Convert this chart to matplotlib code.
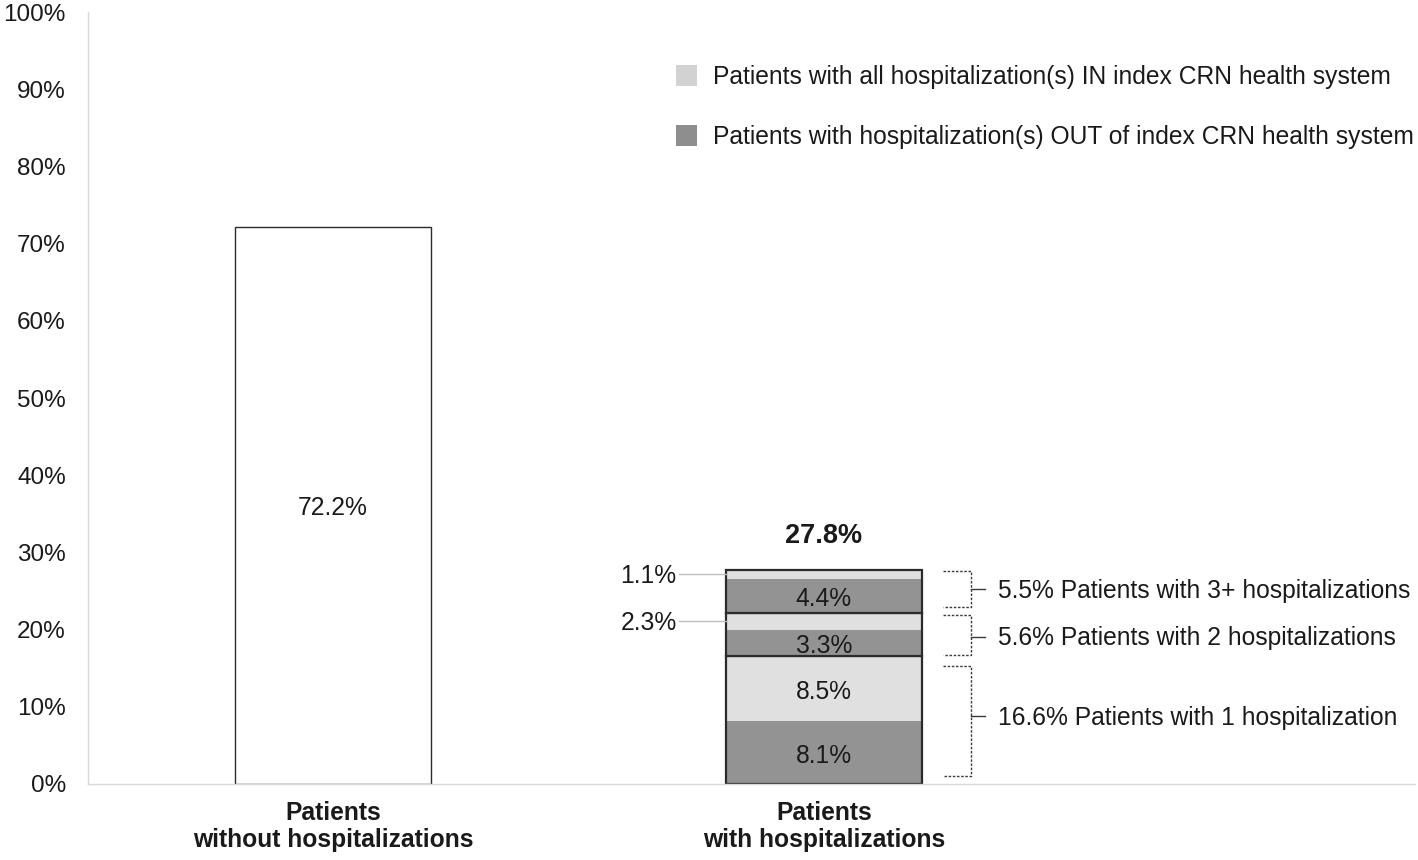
import matplotlib
matplotlib.use("Agg")
import matplotlib.pyplot as plt
from matplotlib.patches import Patch
from matplotlib.ticker import FuncFormatter

plt.rcParams['font.family'] = ['Liberation Sans', 'DejaVu Sans']

# ---- data ----
categories = ["Patients\nwithout hospitalizations", "Patients\nwith hospitalizations"]
no_hosp_value = 72.2
total_hosp_label = "27.8%"
groups = ["1 hospitalization", "2 hospitalizations", "3+ hospitalizations"]
out_values = [8.1, 3.3, 4.4]   # OUT of index CRN health system (dark)
in_values = [8.5, 2.3, 1.1]    # all IN index CRN health system (light)
group_labels = ["16.6% Patients with 1 hospitalization",
                "5.6% Patients with 2 hospitalizations",
                "5.5% Patients with 3+ hospitalizations"]
legend_labels = ["Patients with all hospitalization(s) IN index CRN health system",
                 "Patients with hospitalization(s) OUT of index CRN health system"]
yticks = list(range(0, 101, 10))

# bracket styling (positions relative to groups): (bottom inset, top inset, tick shift)
bracket_insets = [(1.0, 1.3, 0.65), (0.1, 0.3, -0.25), (0.7, 0.1, 0.0)]

DARK = "#939393"
LIGHT = "#e0e0e0"
LEG_LIGHT = "#d2d2d2"
LEG_DARK = "#8e8e8e"
EDGE = "#2b2b2b"
TXT = "#1a1a1a"
FS = 17.7
DY = -0.4  # small vertical text nudge

fig = plt.figure(figsize=(14.18, 8.6), dpi=100)
ax = fig.add_axes([88/1418, 76/860, (1415-88)/1418, (784-12)/860])

width = 0.4
x0, x1 = 0, 1

# bar 1
ax.bar(x0, no_hosp_value, width=width, color="white", edgecolor=EDGE, linewidth=1.0)
ax.text(x0, no_hosp_value/2 + DY, f"{no_hosp_value:.1f}%", ha="center", va="center",
        fontsize=FS, color=TXT)

# bar 2 stacked
bottom = 0.0
for i, (o, n) in enumerate(zip(out_values, in_values)):
    ax.bar(x1, o, bottom=bottom, width=width, color=DARK, linewidth=0)
    ax.bar(x1, n, bottom=bottom + o, width=width, color=LIGHT, linewidth=0)
    ax.bar(x1, o + n, bottom=bottom, width=width, fill=False, edgecolor=EDGE, linewidth=1.6)
    ax.text(x1, bottom + o/2 + DY, f"{o:.1f}%", ha="center", va="center", fontsize=FS, color=TXT)
    if i == 0:
        ax.text(x1, bottom + o + n/2 + DY, f"{n:.1f}%", ha="center", va="center",
                fontsize=FS, color=TXT)
    else:
        ymid = bottom + o + n/2
        ax.plot([x1 - width/2 - 0.095, x1 - width/2], [ymid, ymid], color="#bdbdbd", lw=1.0)
        ax.text(x1 - width/2 - 0.1, ymid - 0.2, f"{n:.1f}%", ha="right", va="center",
                fontsize=FS, color=TXT)
    top = bottom + o + n
    ib, it, sh = bracket_insets[i]
    ylo, yhi = bottom + ib, top - it
    bx0, bx1 = 1.242, 1.299
    ax.plot([bx0, bx1, bx1, bx0], [yhi, yhi, ylo, ylo], color="#3a3a3a", lw=1.0,
            ls=(0, (1.8, 1.2)))
    ymid_b = (ylo + yhi) / 2 + sh
    ax.plot([bx1, bx1 + 0.029], [ymid_b, ymid_b], color="#3a3a3a", lw=1.0)
    ax.text(1.354, ymid_b + DY + 0.2, group_labels[i], ha="left", va="center",
            fontsize=FS, color=TXT)
    bottom = top

ax.text(x1, sum(out_values) + sum(in_values) + 4.4, total_hosp_label, ha="center",
        va="center", fontsize=19.5, fontweight="bold", color=TXT)

ax.set_xlim(-0.499, 2.204)
ax.set_ylim(0, 100)
ax.set_yticks(yticks)
ax.yaxis.set_major_formatter(FuncFormatter(lambda v, p: f"{v:.0f}%"))
ax.set_xticks([x0, x1])
ax.set_xticklabels(categories, fontsize=FS, fontweight="bold", color=TXT, linespacing=1.2)
ax.tick_params(axis="y", length=0, labelsize=17.5, labelcolor=TXT, pad=16)
ax.tick_params(axis="x", length=0, pad=12)
for s in ["top", "right"]:
    ax.spines[s].set_visible(False)
for s in ["left", "bottom"]:
    ax.spines[s].set_color("#d9d9d9")
    ax.spines[s].set_linewidth(1.0)

handles = [Patch(facecolor=LEG_LIGHT, edgecolor="none"), Patch(facecolor=LEG_DARK, edgecolor="none")]
leg = ax.legend(handles, legend_labels, loc="upper left", bbox_to_anchor=(588/1327, 1 - 53/772),
                frameon=False, fontsize=FS, handlelength=0.86, handleheight=0.95,
                handletextpad=0.65, labelspacing=1.45, borderaxespad=0, borderpad=0)
for t in leg.get_texts():
    t.set_color(TXT)

fig.savefig("out.png", dpi=100)
